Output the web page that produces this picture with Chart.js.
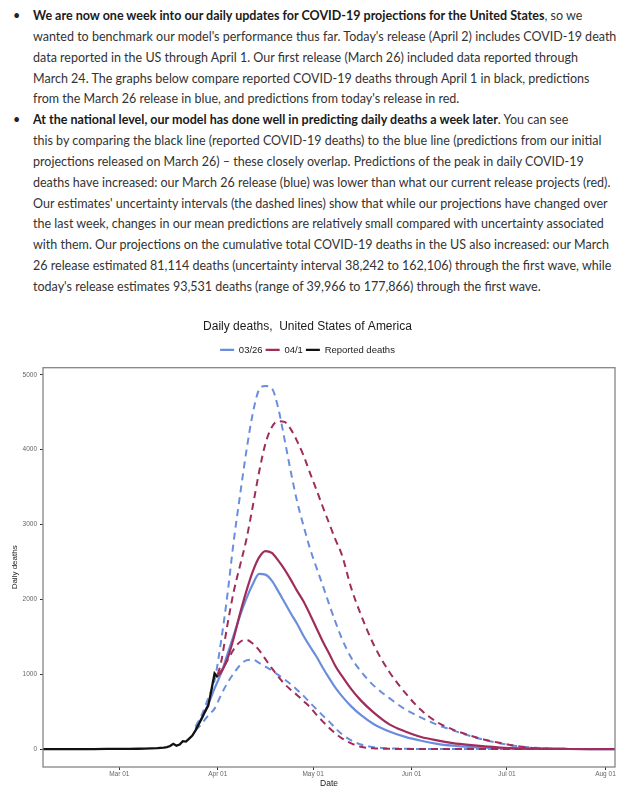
<!DOCTYPE html>
<html>
<head>
<meta charset="utf-8">
<script src="https://cdn.jsdelivr.net/npm/chart.js@4.4.1/dist/chart.umd.min.js"></script>
<style>
html, body { margin: 0; padding: 0; background: #fff; width: 627px; height: 800px; overflow: hidden; }
#text { position: absolute; left: 0; top: 6px; width: 627px; font-family: Lato, sans-serif; font-size: 13.5px; line-height: 20.85px; color: #333; }
#text .ln { white-space: nowrap; padding-left: 33px; position: relative; }
#text .ln span { display: inline-block; }
#text .first::before { content: '\2022'; position: absolute; left: 13px; color: #222; }
#text b { color: #1a1a1a; }
#chart-box { position: absolute; left: 0; top: 305px; width: 660px; height: 495px; }
</style>
</head>
<body>
<div id="text">
  <div class="ln first"><span><b>We are now one week into our daily updates for COVID-19 projections for the United States</b>, so we</span></div>
  <div class="ln"><span>wanted to benchmark our model's performance thus far. Today's release (April 2) includes COVID-19 death</span></div>
  <div class="ln"><span>data reported in the US through April 1. Our first release (March 26) included data reported through</span></div>
  <div class="ln"><span>March 24. The graphs below compare reported COVID-19 deaths through April 1 in black, predictions</span></div>
  <div class="ln"><span>from the March 26 release in blue, and predictions from today's release in red.</span></div>
  <div class="ln first"><span><b>At the national level, our model has done well in predicting daily deaths a week later</b>. You can see</span></div>
  <div class="ln"><span>this by comparing the black line (reported COVID-19 deaths) to the blue line (predictions from our initial</span></div>
  <div class="ln"><span>projections released on March 26) – these closely overlap. Predictions of the peak in daily COVID-19</span></div>
  <div class="ln"><span>deaths have increased: our March 26 release (blue) was lower than what our current release projects (red).</span></div>
  <div class="ln"><span>Our estimates' uncertainty intervals (the dashed lines) show that while our projections have changed over</span></div>
  <div class="ln"><span>the last week, changes in our mean predictions are relatively small compared with uncertainty associated</span></div>
  <div class="ln"><span>with them. Our projections on the cumulative total COVID-19 deaths in the US also increased: our March</span></div>
  <div class="ln"><span>26 release estimated 81,114 deaths (uncertainty interval 38,242 to 162,106) through the first wave, while</span></div>
  <div class="ln"><span>today's release estimates 93,531 deaths (range of 39,966 to 177,866) through the first wave.</span></div>
</div>
<div id="chart-box"><canvas id="chart" width="660" height="495"></canvas></div>
<script>
// days counted from Jan 1 2020 (= day 0)
const xTickDays = [60, 91, 121, 152, 182, 213];
const xTickLabels = ['Mar 01', 'Apr 01', 'May 01', 'Jun 01', 'Jul 01', 'Aug 01'];
const yTicks = [0, 1000, 2000, 3000, 4000, 5000];

const reportedDays = [36, 40, 44, 48, 52, 56, 60, 63, 66, 68, 70, 72, 74, 75, 76, 77, 78, 79, 80, 81, 82, 83, 84, 85, 86, 87, 88, 89, 90, 91];
const reportedDeaths = [0, 0, 0, 0, 0, 1, 1, 2, 4, 5, 8, 12, 18, 25, 40, 70, 45, 60, 105, 100, 140, 180, 250, 330, 410, 500, 580, 790, 1010, 960];

// 03/26 release
const blueDays = [84, 86, 88, 90, 92, 94, 96, 98, 100, 102, 104, 106, 108, 110, 112, 114, 116, 118, 120, 122, 124, 126, 128, 130, 133, 136, 140, 145, 150, 155, 160, 165, 170, 175, 180, 185, 190, 195, 200, 208, 216];
const blueMean = [270, 420, 600, 810, 1010, 1260, 1520, 1780, 2010, 2200, 2340, 2330, 2250, 2110, 1960, 1810, 1670, 1510, 1370, 1240, 1090, 950, 820, 710, 570, 455, 335, 235, 162, 110, 70, 45, 28, 18, 10, 6, 4, 2, 1, 0, 0];
const blueUpper = [300, 460, 680, 920, 1430, 2050, 2770, 3390, 3980, 4480, 4800, 4850, 4820, 4560, 4140, 3700, 3300, 2980, 2680, 2430, 2190, 1940, 1700, 1480, 1220, 1040, 850, 680, 530, 420, 325, 250, 180, 120, 75, 40, 20, 8, 3, 0, 0];
const blueLower = [250, 340, 450, 540, 720, 880, 1010, 1120, 1185, 1195, 1150, 1100, 1050, 990, 930, 865, 790, 710, 620, 535, 450, 370, 280, 200, 115, 60, 25, 10, 4, 1, 0, 0, 0, 0, 0, 0, 0, 0, 0, 0, 0];

// 04/1 release
const redDays = [91, 92, 94, 96, 98, 100, 102, 104, 106, 108, 110, 112, 114, 116, 118, 120, 122, 124, 126, 128, 130, 133, 136, 140, 145, 150, 155, 160, 165, 170, 175, 180, 185, 190, 195, 200, 208, 216];
const redMean = [980, 1020, 1200, 1480, 1810, 2110, 2370, 2560, 2645, 2620, 2520, 2400, 2260, 2110, 1970, 1800, 1620, 1440, 1280, 1110, 980, 800, 650, 490, 330, 235, 160, 115, 80, 55, 35, 20, 10, 5, 2, 1, 0, 0];
const redUpper = [1000, 1150, 1650, 2100, 2450, 2800, 3240, 3700, 4080, 4300, 4380, 4370, 4270, 4110, 3920, 3690, 3470, 3240, 3020, 2800, 2600, 2150, 1800, 1400, 1030, 750, 520, 360, 260, 185, 125, 80, 40, 15, 5, 1, 0, 0];
const redLower = [990, 1040, 1180, 1330, 1430, 1460, 1410, 1320, 1200, 1080, 970, 870, 790, 720, 640, 560, 460, 370, 285, 210, 145, 75, 30, 10, 3, 0, 0, 0, 0, 0, 0, 0, 0, 0, 0, 0, 0, 0];

const blue = '#6a8edd';
const red = '#a02c5b';

// fit the paragraph lines to the page width
const lines = document.querySelectorAll('#text .ln span');
let widest = 0;
lines.forEach(s => { widest = Math.max(widest, s.offsetWidth); });
const txt = document.getElementById('text');
txt.style.fontSize = (13.5 * 584 / widest) + 'px';

const pts = (days, vals) => days.map((d, i) => ({x: d, y: vals[i]}));

const lineSet = (label, days, vals, color, dashed, order) => ({
    label: label,
    data: pts(days, vals),
    borderColor: color,
    backgroundColor: color,
    borderWidth: dashed ? 2 : 2.2,
    borderDash: dashed ? [7, 5] : [],
    pointRadius: 0,
    cubicInterpolationMode: 'monotone',
    fill: false,
    order: order
});

const frame = {
    id: 'frame',
    afterDraw(chart) {
        const a = chart.chartArea;
        const c = chart.ctx;
        c.save();
        c.strokeStyle = '#858585';
        c.lineWidth = 1.3;
        c.strokeRect(a.left, a.top, a.right - a.left, a.bottom - a.top);
        c.restore();
    }
};

let reported = lineSet('Reported deaths', reportedDays, reportedDeaths, '#111', false, 0);
reported.cubicInterpolationMode = 'default';
reported.tension = 0;
reported.borderWidth = 2.3;

new Chart(document.getElementById('chart'), {
    type: 'line',
    data: {
        datasets: [
            lineSet('03/26', blueDays, blueMean, blue, false, 2),
            lineSet('04/1', redDays, redMean, red, false, 1),
            reported,
            lineSet('03/26 upper', blueDays, blueUpper, blue, true, 2),
            lineSet('03/26 lower', blueDays, blueLower, blue, true, 2),
            lineSet('04/1 upper', redDays, redUpper, red, true, 1),
            lineSet('04/1 lower', redDays, redLower, red, true, 1)
        ]
    },
    options: {
        responsive: false,
        animation: false,
        layout: {padding: {left: 0, right: 45, top: 0, bottom: 0}},
        plugins: {
            title: {
                display: true,
                text: 'Daily deaths,  United States of America',
                color: '#1a1a1a',
                font: {family: 'Liberation Sans', size: 12, weight: 'normal'},
                padding: {top: 14.8, bottom: 8}
            },
            legend: {
                display: true,
                labels: {
                    filter: item => item.datasetIndex < 3,
                    sort: (a, b) => a.datasetIndex - b.datasetIndex,
                    usePointStyle: true,
                    pointStyle: 'line',
                    pointStyleWidth: 14,
                    padding: 3,
                    color: '#1a1a1a',
                    font: {family: 'Liberation Sans', size: 9.5}
                }
            },
            tooltip: {enabled: false}
        },
        scales: {
            x: {
                type: 'linear',
                min: 36,
                max: 216,
                afterBuildTicks: s => { s.ticks = xTickDays.map(v => ({value: v})); },
                afterFit: s => { s.height = 33; },
                border: {display: false},
                grid: {display: true, drawOnChartArea: false, drawTicks: true, tickLength: 3, tickColor: '#333', tickWidth: 1},
                ticks: {
                    padding: 0,
                    maxRotation: 0,
                    color: '#666',
                    font: {family: 'Liberation Sans', size: 6.5},
                    callback: v => xTickLabels[xTickDays.indexOf(v)]
                },
                title: {
                    display: true,
                    text: 'Date',
                    color: '#1a1a1a',
                    font: {family: 'Liberation Sans', size: 8.5},
                    padding: {top: 0, bottom: 11}
                }
            },
            y: {
                type: 'linear',
                min: -240,
                max: 5094,
                afterBuildTicks: s => { s.ticks = yTicks.map(v => ({value: v})); },
                afterFit: s => { s.width = 43; },
                border: {display: false},
                grid: {display: true, drawOnChartArea: false, drawTicks: true, tickLength: 3, tickColor: '#333', tickWidth: 1},
                ticks: {
                    padding: 3,
                    color: '#666',
                    font: {family: 'Liberation Sans', size: 6.5},
                    callback: v => String(v)
                },
                title: {
                    display: true,
                    text: 'Daily deaths',
                    color: '#1a1a1a',
                    font: {family: 'Liberation Sans', size: 8},
                    padding: {top: 9.7, bottom: 0}
                }
            },
            gap: {
                type: 'linear',
                position: 'top',
                display: true,
                border: {display: false},
                grid: {display: false},
                ticks: {display: false},
                afterFit: s => { s.height = 3; }
            }
        }
    },
    plugins: [frame]
});
</script>
</body>
</html>
